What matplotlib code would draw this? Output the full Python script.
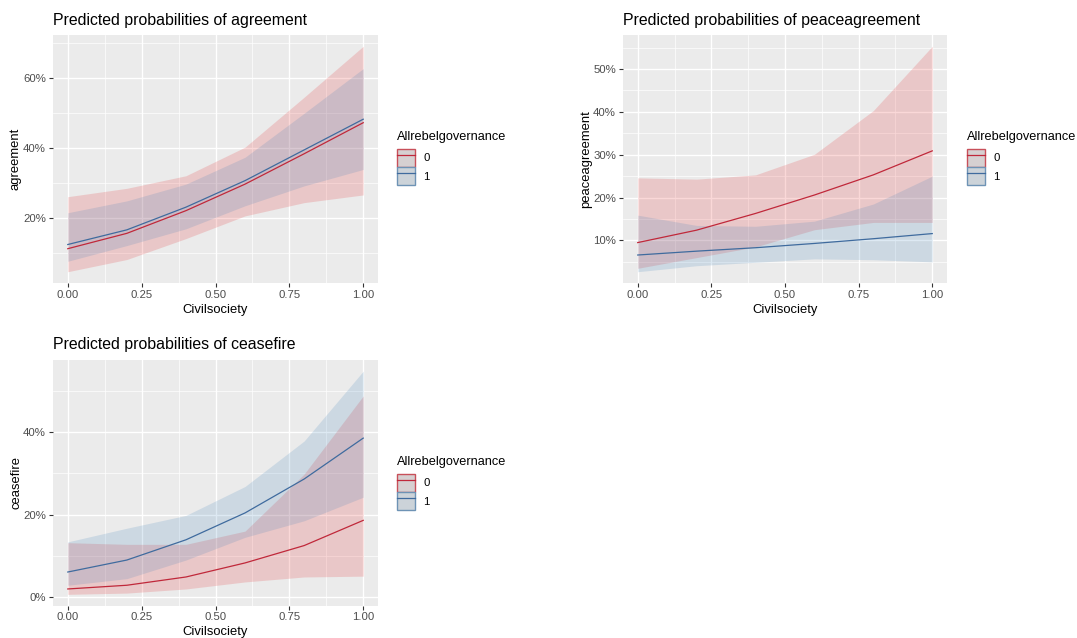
import matplotlib
matplotlib.use("Agg")
import matplotlib.pyplot as plt
from matplotlib.patches import Patch
from matplotlib.lines import Line2D
from matplotlib.ticker import PercentFormatter, FormatStrFormatter, MultipleLocator
import numpy as np

plt.rcParams['font.family'] = ['Liberation Sans', 'DejaVu Sans']

# ---------------- data ----------------
civilsociety = [0.0, 0.2, 0.4, 0.6, 0.8, 1.0]
groups = ["0", "1"]

# agreement
agree_pred_0 = [11.1, 15.5, 22.0, 29.6, 38.3, 47.2]
agree_lo_0 = [4.5, 8.0, 14.0, 20.5, 24.3, 26.5]
agree_hi_0 = [26.0, 28.4, 32.0, 40.2, 54.5, 69.1]
agree_pred_1 = [12.3, 16.5, 23.0, 30.6, 39.4, 48.2]
agree_lo_1 = [7.5, 12.0, 16.8, 23.4, 29.1, 33.8]
agree_hi_1 = [21.4, 24.8, 29.6, 37.3, 49.9, 62.7]

# peaceagreement
peace_pred_0 = [9.5, 12.4, 16.3, 20.6, 25.3, 30.9]
peace_lo_0 = [3.5, 6.0, 8.5, 12.5, 14.2, 14.2]
peace_hi_0 = [24.6, 24.3, 25.3, 30.1, 40.3, 55.3]
peace_pred_1 = [6.6, 7.5, 8.3, 9.3, 10.4, 11.6]
peace_lo_1 = [2.7, 4.1, 4.9, 5.7, 5.5, 5.0]
peace_hi_1 = [15.9, 13.5, 13.3, 14.5, 18.5, 25.0]

# ceasefire
cease_pred_0 = [2.0, 2.9, 4.9, 8.3, 12.5, 18.6]
cease_lo_0 = [0.7, 1.0, 2.0, 3.7, 4.9, 5.1]
cease_hi_0 = [13.2, 12.8, 12.8, 16.0, 29.8, 48.7]
cease_pred_1 = [6.1, 9.0, 13.9, 20.4, 28.6, 38.5]
cease_lo_1 = [2.9, 4.5, 9.0, 14.5, 18.5, 24.2]
cease_hi_1 = [13.4, 16.7, 19.8, 26.8, 37.8, 54.7]

x_ticks = [0.0, 0.25, 0.5, 0.75, 1.0]
agree_yticks = [20, 40, 60]
peace_yticks = [10, 20, 30, 40, 50]
cease_yticks = [0, 20, 40]

# ---------------- style ----------------
W, H = 1077, 638
fig = plt.figure(figsize=(W / 100, H / 100), dpi=100)
fig.patch.set_facecolor('white')

LINE_COL = {"0": "#C0283A", "1": "#3F6B9E"}
FILL_COL = {"0": "#E41A1C", "1": "#377EB8"}
EDGE_COL = {"0": "#C8505A", "1": "#6E93B5"}
KEY_FILL = {"0": "#D6D0D1", "1": "#CCD3D9"}
BG = "#EBEBEB"


def px_axes(x0, y0, x1, y1):
    return fig.add_axes([x0 / W, 1 - y1 / H, (x1 - x0) / W, (y1 - y0) / H])


def panel(ax, title, ylabel, preds, los, his, yticks, ymajor_step, title_xy, legend_xy):
    ax.set_facecolor(BG)
    for s in ax.spines.values():
        s.set_visible(False)
    for g in groups:
        i = groups.index(g)
        ax.fill_between(civilsociety, los[i], his[i], color=FILL_COL[g], alpha=0.17, lw=0, zorder=2)
    for g in groups:
        i = groups.index(g)
        ax.plot(civilsociety, preds[i], color=LINE_COL[g], lw=0.9, zorder=3)
    allv = np.concatenate([np.array(los), np.array(his)])
    lo, hi = allv.min(), allv.max()
    pad = (hi - lo) * 0.05
    ax.set_ylim(lo - pad, hi + pad)
    ax.set_xlim(-0.05, 1.05)
    ax.set_xticks(x_ticks)
    ax.xaxis.set_major_formatter(FormatStrFormatter('%.2f'))
    ax.xaxis.set_minor_locator(MultipleLocator(0.125))
    ax.set_yticks(yticks)
    ax.yaxis.set_major_formatter(PercentFormatter(xmax=100, decimals=0))
    ax.yaxis.set_minor_locator(MultipleLocator(ymajor_step / 2))
    ax.grid(which='major', color='white', lw=1.0, zorder=0)
    ax.grid(which='minor', color='white', lw=0.5, zorder=0)
    ax.set_axisbelow(True)
    ax.tick_params(which='major', length=3, width=0.8, color='#333333',
                   labelcolor='#4D4D4D', labelsize=8.2, pad=2)
    ax.tick_params(which='minor', length=0)
    ax.set_xlabel('Civilsociety', fontsize=9.4, color='black')
    ax.set_ylabel(ylabel, fontsize=9.4, color='black')
    bb = ax.get_position()
    wpx, hpx = bb.width * W, bb.height * H
    ax.yaxis.set_label_coords(-37 / wpx, 0.5)
    ax.yaxis.label.set_va('center')
    ax.xaxis.set_label_coords(0.5, -27 / hpx)
    ax.xaxis.label.set_va('center')
    fig.text(title_xy[0] / W, 1 - title_xy[1] / H, title, fontsize=11.4,
             ha='left', va='center', color='black')
    handles = []
    for g in groups:
        handles.append((Patch(facecolor=KEY_FILL[g], edgecolor=EDGE_COL[g], lw=1.0),
                        Line2D([], [], color=LINE_COL[g], lw=0.9)))
    leg = fig.legend(handles, groups, title='Allrebelgovernance',
                     loc='upper left',
                     bbox_to_anchor=(legend_xy[0] / W, 1 - legend_xy[1] / H),
                     frameon=False, fontsize=8.2, title_fontsize=9.2,
                     handlelength=1.6, handleheight=2.1, handletextpad=0.7,
                     labelspacing=0.0, borderpad=0, borderaxespad=0)
    leg._legend_box.align = 'left'
    leg._legend_box.sep = 4


ax1 = px_axes(53, 35, 378, 283)
panel(ax1, 'Predicted probabilities of agreement', 'agreement',
      [agree_pred_0, agree_pred_1], [agree_lo_0, agree_lo_1], [agree_hi_0, agree_hi_1],
      agree_yticks, 20, (53, 21), (397, 131))

ax2 = px_axes(623, 35, 947, 283)
panel(ax2, 'Predicted probabilities of peaceagreement', 'peaceagreement',
      [peace_pred_0, peace_pred_1], [peace_lo_0, peace_lo_1], [peace_hi_0, peace_hi_1],
      peace_yticks, 10, (623, 21), (967, 131))

ax3 = px_axes(53, 360, 378, 605.5)
panel(ax3, 'Predicted probabilities of ceasefire', 'ceasefire',
      [cease_pred_0, cease_pred_1], [cease_lo_0, cease_lo_1], [cease_hi_0, cease_hi_1],
      cease_yticks, 20, (53, 345), (397, 456))

fig.savefig('out.png', dpi=100, facecolor='white')
